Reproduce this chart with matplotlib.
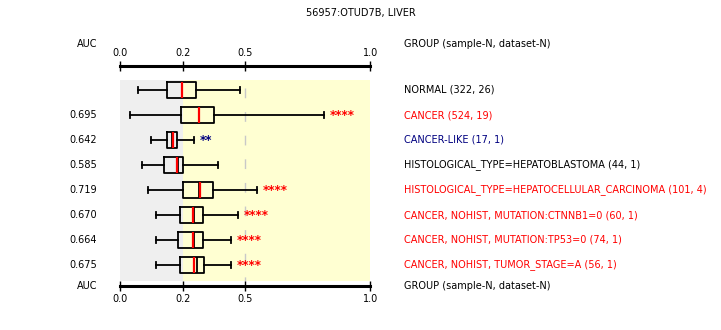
import matplotlib
matplotlib.use("Agg")
import matplotlib.pyplot as plt
import matplotlib.transforms as mtransforms
import numpy as np

plt.rcParams['font.family'] = ['DejaVu Sans']

title = "56957:OTUD7B, LIVER"
groups = ["NORMAL (322, 26)", "CANCER (524, 19)", "CANCER-LIKE (17, 1)",
          "HISTOLOGICAL_TYPE=HEPATOBLASTOMA (44, 1)",
          "HISTOLOGICAL_TYPE=HEPATOCELLULAR_CARCINOMA (101, 4)",
          "CANCER, NOHIST, MUTATION:CTNNB1=0 (60, 1)",
          "CANCER, NOHIST, MUTATION:TP53=0 (74, 1)",
          "CANCER, NOHIST, TUMOR_STAGE=A (56, 1)"]
group_colors = ["black", "red", "#000080", "black", "red", "red", "red", "red"]
auc = ["", "0.695", "0.642", "0.585", "0.719", "0.670", "0.664", "0.675"]
stars = ["", "****", "**", "", "****", "****", "****", "****"]
star_colors = ["red", "red", "#000080", "red", "red", "red", "red", "red"]

# box stats, in axis units
whislo = [0.058, 0.032, 0.099, 0.070, 0.090, 0.115, 0.115, 0.115]
q1 = [0.150, 0.195, 0.150, 0.139, 0.202, 0.192, 0.186, 0.192]
med = [0.198, 0.278, 0.170, 0.180, 0.283, 0.250, 0.250, 0.252]
mean = [0.198, 0.278, 0.165, 0.184, 0.279, 0.254, 0.254, 0.267]
q3 = [0.265, 0.351, 0.182, 0.200, 0.346, 0.296, 0.298, 0.303]
whishi = [0.473, 0.816, 0.255, 0.370, 0.546, 0.464, 0.430, 0.430]

ticks = [0.0, 0.2, 0.5, 1.0]
tick_pos = [0.0, 0.25, 0.5, 1.0]


def fwd(v):
    return np.interp(v, ticks, tick_pos)


def inv(p):
    return np.interp(p, tick_pos, ticks)


W, H = 721, 330
fs = 7
fig = plt.figure(figsize=(W / 100, H / 100), dpi=100)
ax = fig.add_axes([120.3 / W, (H - 286) / H, 250 / W, 220 / H])
ax.set_xscale('function', functions=(fwd, inv))
ax.set_xlim(0, 1)
n = len(groups)
ypos = np.arange(n)
ax.set_ylim(7.84, -0.96)

# background
ax.fill_betweenx([-0.4, 7.64], 0, 0.2, color="#efefef", lw=0, zorder=0)
ax.fill_betweenx([-0.4, 7.64], 0.2, 1.0, color="#ffffd2", lw=0, zorder=0)
ax.plot([0.5, 0.5], [-0.1, 7.64], color="#c8c8c8", lw=1, dashes=(7, 10), zorder=1)

stats = []
for i in range(n):
    stats.append(dict(whislo=whislo[i], q1=q1[i], med=med[i], mean=mean[i],
                      q3=q3[i], whishi=whishi[i], fliers=[]))
ax.bxp(stats, positions=ypos, orientation='horizontal', widths=0.64,
       capwidths=0.22, showmeans=True, meanline=True, showfliers=False,
       manage_ticks=False,
       boxprops=dict(color="black", lw=1.3),
       whiskerprops=dict(color="black", lw=1.3),
       capprops=dict(color="black", lw=1.3),
       medianprops=dict(color="red", lw=1.6, zorder=6),
       meanprops=dict(color="black", lw=1.3, linestyle="-", zorder=5))

for i in range(n):
    if stars[i]:
        ax.annotate(stars[i], (whishi[i], i), xytext=(4, -0.7), textcoords="offset points",
                    ha="left", va="center", color=star_colors[i], fontsize=8.5,
                    fontweight="bold")

trans = mtransforms.blended_transform_factory(ax.transAxes, ax.transData)
xl = (97 - 120.3) / 250
xr = (404.3 - 120.3) / 250
for i in range(n):
    ax.text(xl, i, auc[i], transform=trans, ha="right", va="center", fontsize=fs)
    ax.text(xr, i, groups[i], transform=trans, ha="left", va="center",
            fontsize=fs, color=group_colors[i])

top_y = -0.96 - 22 / 25
ax.text(xl, top_y, "AUC", transform=trans, ha="right", va="center", fontsize=fs)
ax.text(xr, top_y, "GROUP (sample-N, dataset-N)", transform=trans, ha="left",
        va="center", fontsize=fs)
ax.text(xl, 7.84, "AUC", transform=trans, ha="right", va="center", fontsize=fs)
ax.text(xr, 7.84, "GROUP (sample-N, dataset-N)", transform=trans, ha="left",
        va="center", fontsize=fs)

ax.set_xticks(ticks)
ax.set_xticklabels(["0.0", "0.2", "0.5", "1.0"])
ax.set_yticks([])
ax.tick_params(axis="x", top=True, labeltop=True, bottom=True, labelbottom=True,
               direction="inout", length=7, width=1, labelsize=fs, pad=2)
for s in ["left", "right"]:
    ax.spines[s].set_visible(False)
for s in ["top", "bottom"]:
    ax.spines[s].set_linewidth(2.2)

fig.text(0.5, 1 - 13 / H, title, ha="center", va="center", fontsize=fs)

fig.savefig("out.png", dpi=100)
